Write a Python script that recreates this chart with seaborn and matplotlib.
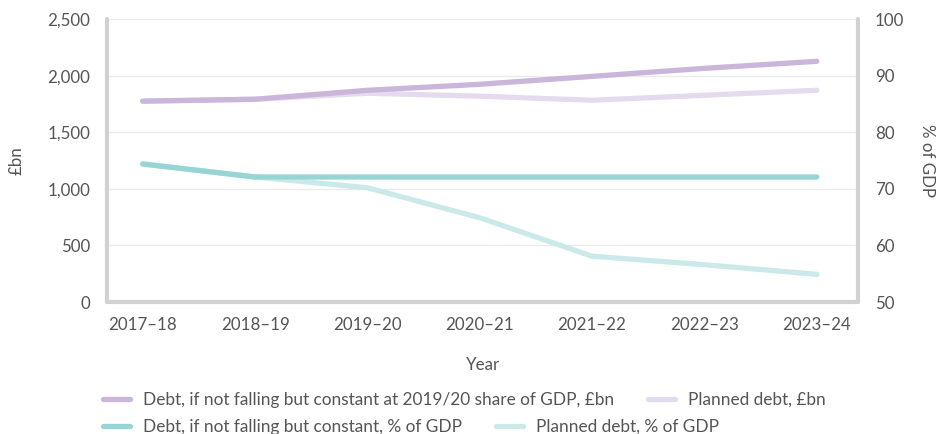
import matplotlib
matplotlib.use("Agg")
import matplotlib.pyplot as plt
import seaborn as sns
import pandas as pd
from matplotlib.lines import Line2D

years = ["2017–18", "2018–19", "2019–20", "2020–21", "2021–22", "2022–23", "2023–24"]
debt_constant_bn = [1775, 1792, 1871, 1924, 1994, 2065, 2127]
debt_planned_bn = [1775, 1792, 1845, 1819, 1783, 1827, 1871]
debt_constant_pct = [74.4, 72.1, 72.1, 72.1, 72.1, 72.1, 72.1]
debt_planned_pct = [74.4, 72.1, 70.2, 64.9, 58.1, 56.6, 54.9]

lbl_const_bn = "Debt, if not falling but constant at 2019/20 share of GDP, £bn"
lbl_plan_bn = "Planned debt, £bn"
lbl_const_pct = "Debt, if not falling but constant, % of GDP"
lbl_plan_pct = "Planned debt, % of GDP"

c_const_bn = "#c9b6da"
c_plan_bn = "#e5dbee"
c_const_pct = "#97d5d5"
c_plan_pct = "#cbe9e9"
text_c = "#555555"
spine_c = "#d2d2d2"

sns.set_theme(style="white")
plt.rcParams["font.family"] = ["Lato", "DejaVu Sans"]
plt.rcParams["text.color"] = text_c
plt.rcParams["axes.labelcolor"] = text_c
plt.rcParams["xtick.color"] = text_c
plt.rcParams["ytick.color"] = text_c

bn = pd.DataFrame({"year": years * 2,
                   "value": debt_constant_bn + debt_planned_bn,
                   "series": [lbl_const_bn] * 7 + [lbl_plan_bn] * 7})
pct = pd.DataFrame({"year": years * 2,
                    "value": debt_constant_pct + debt_planned_pct,
                    "series": [lbl_const_pct] * 7 + [lbl_plan_pct] * 7})

fig = plt.figure(figsize=(9.37, 4.34), dpi=100)
ax = fig.add_axes([0.114, 0.304, 0.802, 0.652])
ax2 = ax.twinx()

lw = 3.8
sns.lineplot(data=bn, x="year", y="value", hue="series", ax=ax,
             palette={lbl_const_bn: c_const_bn, lbl_plan_bn: c_plan_bn},
             hue_order=[lbl_plan_bn, lbl_const_bn],
             linewidth=lw, legend=False, sort=False)
sns.lineplot(data=pct, x="year", y="value", hue="series", ax=ax2,
             palette={lbl_const_pct: c_const_pct, lbl_plan_pct: c_plan_pct},
             hue_order=[lbl_plan_pct, lbl_const_pct],
             linewidth=lw, legend=False, sort=False)
for line in ax.get_lines() + ax2.get_lines():
    line.set_solid_capstyle("round")
    line.set_solid_joinstyle("round")

ax.set_xlim(-0.32, 6.37)
ax.set_ylim(0, 2500)
ax2.set_ylim(50, 100)
ax.set_yticks([0, 500, 1000, 1500, 2000, 2500])
ax.set_yticklabels([f"{v:,}" for v in [0, 500, 1000, 1500, 2000, 2500]])
ax2.set_yticks([50, 60, 70, 80, 90, 100])

ax.grid(axis="y", color="#ebebeb", linewidth=1)
ax.grid(axis="x", visible=False)
ax2.grid(False)
ax.set_zorder(0)
ax2.set_zorder(1)

for sp in ["top", "right"]:
    ax.spines[sp].set_visible(False)
for sp in ["top", "left", "bottom"]:
    ax2.spines[sp].set_visible(False)
for sp in [ax.spines["left"], ax.spines["bottom"], ax2.spines["right"]]:
    sp.set_color(spine_c)
    sp.set_linewidth(3)
    sp.set_capstyle("round")

fs = 12.2
ax.tick_params(axis="both", length=0, labelsize=fs)
ax.tick_params(axis="y", pad=12)
ax.tick_params(axis="x", pad=11)
ax2.tick_params(axis="y", length=0, labelsize=fs, pad=12)

ax.set_xlabel("Year", fontsize=fs, labelpad=17)
ax.set_ylabel("£bn", fontsize=fs, labelpad=16)
ax2.set_ylabel("% of GDP", fontsize=fs, rotation=270, labelpad=22)

def handle(c):
    return Line2D([], [], color=c, linewidth=lw, solid_capstyle="round")

leg_kw = dict(loc="upper left", ncol=2, frameon=False, fontsize=12.4,
              handlelength=1.55, handletextpad=0.75, columnspacing=2.0,
              borderaxespad=0, borderpad=0)
leg1 = fig.legend([handle(c_const_bn), handle(c_plan_bn)], [lbl_const_bn, lbl_plan_bn],
                  bbox_to_anchor=(0.110, 1 - 392 / 434), **leg_kw)
leg2 = fig.legend([handle(c_const_pct), handle(c_plan_pct)], [lbl_const_pct, lbl_plan_pct],
                  bbox_to_anchor=(0.110, 1 - 419 / 434), **leg_kw)

fig.savefig("out.png", dpi=100)
